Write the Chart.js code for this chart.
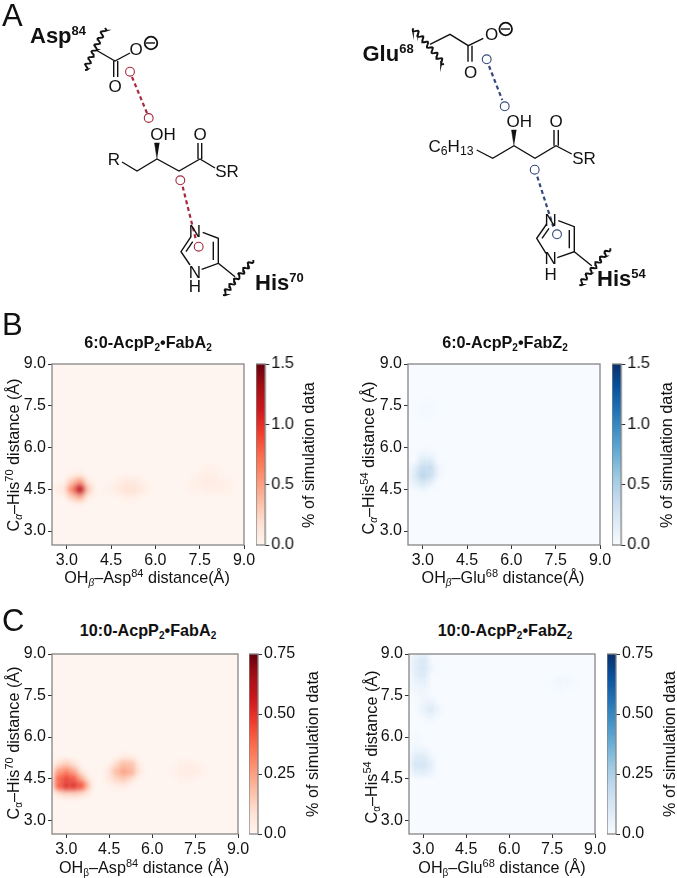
<!DOCTYPE html>
<html>
<head>
<meta charset="utf-8">
<script src="https://cdn.jsdelivr.net/npm/chart.js@4"></script>
<style>
  html, body { margin: 0; padding: 0; background: #fff; }
  body { position: relative; width: 677px; height: 878px; overflow: hidden; font-family: "Liberation Sans", sans-serif; color: #111; }
  canvas { position: absolute; }
  .txt { position: absolute; white-space: nowrap; line-height: 1; transform: translate(-50%, -50%); }
  .rot { transform: translate(-50%, -50%) rotate(-90deg); }
  .atom { font-size: 17px; }
  .res { font-size: 22px; font-weight: bold; transform: translate(0, -50%); }
  .res sup { font-size: 13px; vertical-align: 8px; line-height: 0; }
  .panel { font-size: 31px; transform: translate(0, -50%); }
  .title { font-size: 16.2px; font-weight: bold; }
  .axis { font-size: 16.2px; }
  .title sub, .axis sub { font-size: .62em; vertical-align: -3px; line-height: 0; }
  .atom sub { font-size: .72em; vertical-align: -3px; line-height: 0; }
  .axis sup { font-size: .68em; vertical-align: 6px; line-height: 0; }
</style>
</head>
<body>
<script>
const xTicks = [3.0, 4.5, 6.0, 7.5, 9.0];
const yTicks = [3.0, 4.5, 6.0, 7.5, 9.0];
const barTicks6 = [0.0, 0.5, 1.0, 1.5];
const barTicks10 = [0.0, 0.25, 0.5, 0.75];

const reds = ["#fff5f0", "#fee0d2", "#fcbba1", "#fc9272", "#fb6a4a", "#ef3b2c", "#cb181d", "#a50f15", "#67000d"];
const blues = ["#f7fbff", "#deebf7", "#c6dbef", "#9ecae1", "#6baed6", "#4292c6", "#2171b5", "#08519c", "#08306b"];

// heatmap cells that stand out from the background: [x, y, percent]
const fabA6 = [
  [2.75,4.5,.09],[3,4.5,.14],[3.19,4.5,.6],[3.44,4.5,1.18],[3.69,4.5,.3],[3.94,4.5,.04],
  [3.19,4.75,.3],[3.44,4.75,.5],[3.69,4.75,.1],[3.19,4.25,.28],[3.44,4.25,.42],[3.69,4.25,.08],[3.19,5,.04],[3.44,5,.08],[3.44,4,.04],
  [4.5,4.5,.05],[4.75,4.5,.1],[5,4.5,.17],[5.25,4.5,.18],[5.5,4.5,.1],[5.75,4.5,.03],
  [4.75,4.75,.05],[5,4.75,.11],[5.25,4.75,.11],[5.5,4.75,.05],[5,4.25,.05],[5.25,4.25,.05],
  [7.25,4.5,.03],[7.5,4.5,.04],[7.75,4.5,.05],[8,4.5,.05],[8.25,4.5,.04],[8.5,4.5,.03],
  [7.25,4.75,.04],[7.5,4.75,.06],[7.75,4.75,.08],[8,4.75,.08],[8.25,4.75,.06],[8.5,4.75,.03],
  [7.5,5,.04],[7.75,5,.06],[8,5,.05],[7.75,5.25,.03],[8,5.25,.03]
];
const fabZ6 = [
  [3,5.75,.07],[3.25,5.75,.07],[3,5.5,.2],[3.25,5.5,.2],
  [2.75,5.25,.14],[3,5.25,.38],[3.25,5.25,.38],[3.5,5.25,.08],
  [2.75,5,.2],[3,5,.45],[3.25,5,.34],[3.5,5,.06],
  [2.75,4.75,.14],[3,4.75,.24],[3.25,4.75,.13],[3,4.5,.05],
  [3,7.5,.03],[3.25,7.5,.03],[3,7.25,.03],[3.25,7.25,.03]
];
const fabA10 = [
  [2.75,5,.09],[3,5,.14],[3.25,5,.07],
  [2.75,4.75,.25],[3,4.75,.31],[3.25,4.75,.22],[3.5,4.75,.05],
  [2.75,4.5,.38],[3,4.5,.46],[3.25,4.5,.4],[3.5,4.5,.2],[3.75,4.5,.03],
  [2.75,4.25,.4],[3,4.25,.51],[3.25,4.25,.51],[3.5,4.25,.42],[3.7,4.25,.16],
  [2.75,4,.08],[3,4,.13],[3.25,4,.13],[3.5,4,.1],[3.7,4,.04],
  [5,5.25,.04],[5.25,5.25,.04],[4.75,5,.1],[5,5,.18],[5.25,5,.17],[5.5,5,.04],
  [4.5,4.75,.05],[4.75,4.75,.18],[5,4.75,.25],[5.25,4.75,.21],[5.5,4.75,.06],
  [4.5,4.5,.04],[4.75,4.5,.11],[5,4.5,.14],[5.25,4.5,.07],[4.75,4.25,.02],[5,4.25,.03],
  [7,5,.02],[7.25,5,.03],[7.5,5,.02],[6.75,4.75,.02],[7,4.75,.035],[7.25,4.75,.045],[7.5,4.75,.04],[7.75,4.75,.02],
  [7,4.5,.015],[7.25,4.5,.02]
];
const fabZ10 = [
  [2.75,9,.04],[3,9,.06],[2.75,8.75,.07],[3,8.75,.12],[2.75,8.5,.08],[3,8.5,.13],[3.25,8.5,.03],
  [2.75,8.25,.07],[3,8.25,.11],[2.75,8,.04],[3,8,.07],[2.75,7.75,.03],[3,7.75,.04],[3,7.5,.03],
  [3,7.25,.03],[3.25,7.25,.05],[3,7,.04],[3.25,7,.1],[3.5,7,.04],[3.25,6.75,.04],
  [2.75,6,.02],[2.75,5.75,.02],[2.75,5.5,.04],[3,5.5,.04],[2.75,5.25,.09],[3,5.25,.1],[3.25,5.25,.03],
  [2.75,5,.13],[3,5,.14],[3.25,5,.07],[2.75,4.75,.07],[3,4.75,.08],[3.25,4.75,.04],
  [7.5,8,.012],[7.75,8,.03],[8,8,.03],[8.25,8,.012],[7.75,7.75,.012],[8,7.75,.012]
];

// panel A schematic, in the picture's own units
const blackBonds = [
  [[96,50],[115,61],[130,53]], [[113.7,61],[113.7,77]], [[117.7,61],[117.7,77]],
  [[122,162],[137,171],[157,159],[179,171],[200,159],[215,168]], [[198,159],[198,143]], [[201.7,159],[201.7,143]],
  [[202.7,232.3],[218.3,238.3],[218.3,263.3],[201.7,269.3]], [[213.3,241.7],[213.3,260]],
  [[190,265],[181,251.7],[191,236.7]], [[186,251.7],[192.7,241.7]], [[218.3,263.3],[235,276.7]],
  [[430,44.3],[450,34.3],[468.3,45.7],[483.3,38.3]], [[468,45.7],[468,61.7]], [[472,45.7],[472,61.7]],
  [[476.7,150],[492.7,158.3],[514,145.7],[535,158.3],[556,145.7],[571.7,154]], [[554,145.7],[554,130]], [[558.3,145.7],[558.3,130]],
  [[558.3,220.7],[574.3,226.7],[574.3,251.7],[557.3,257.7]], [[569.3,230],[569.3,248.3]],
  [[546,253.3],[536.7,238.3],[546.7,224]], [[542,238.3],[549,228.3]], [[574.3,251.7],[591.7,265.7]],
  [[146,43],[155,43]], [[501,29],[510,29]]
];
const wavyEnds = [[85,70,105,28], [223,295,253,260], [413.3,28.3,444,64], [579.3,285,610,248.3]];
const wedges = [[[157,159],[154.5,143],[159.5,143]], [[514,145.7],[511.5,130],[516.5,130]]];
const chargeRings = [[151,43], [505.7,29]];
const redLinks = [[[132,77],[147,113]], [[182.7,186.7],[196,240]]];
const redRings = [[130,71.7], [148.7,118], [180.3,180.3], [198.7,246.7]];
const blueLinks = [[[489,66],[502.3,100]], [[537.3,176.7],[553.3,226.7]]];
const blueRings = [[486.7,59.3], [504.7,106.3], [534.7,169.7], [557,234.3]];
const atomLabels = [
  ["O",115,86],["O",136,49],["OH",163,134],["R",114,159],["O",200,134],["SR",227,171],["N",195,231],["N",195,272],["H",195,286],
  ["O",470.7,71.7],["O",491.7,34.3],["OH",519.3,120.7],["C<sub>6</sub>H<sub>13</sub>",451,146],["O",556,120.7],["SR",584,158.3],["N",550.7,220],["N",550.7,258.3],["H",550.7,274]
];

function addText(html, x, y, cls) {
  const el = document.createElement("div");
  el.className = "txt " + cls;
  el.innerHTML = html;
  el.style.left = x + "px";
  el.style.top = y + "px";
  document.body.appendChild(el);
}

function addCanvas(left, top, width, height) {
  const c = document.createElement("canvas");
  c.width = width;
  c.height = height;
  c.style.left = left + "px";
  c.style.top = top + "px";
  c.style.width = width + "px";
  c.style.height = height + "px";
  document.body.appendChild(c);
  return c;
}

function rampColor(ramp, t) {
  const p = Math.min(Math.max(t, 0), 1) * (ramp.length - 1);
  const i = Math.min(Math.floor(p), ramp.length - 2);
  const f = p - i;
  const a = parseInt(ramp[i].slice(1), 16), b = parseInt(ramp[i + 1].slice(1), 16);
  const mix = s => Math.round(((a >> s) & 255) * (1 - f) + ((b >> s) & 255) * f);
  return `rgb(${mix(16)},${mix(8)},${mix(0)})`;
}

const tickFont = { family: "Liberation Sans", size: 16 };
const spines = {
  id: "spines",
  afterDraw(chart) {
    const { ctx, chartArea: a } = chart;
    ctx.save();
    ctx.strokeStyle = "#858585";
    ctx.lineWidth = 1.3;
    ctx.strokeRect(a.left, a.top, a.right - a.left, a.bottom - a.top);
    ctx.restore();
  }
};

// one heatmap panel
function heatmap(box, cells, ramp, vmax) {
  const left = 40, top = 12, right = 22, bottom = 26;
  const canvas = addCanvas(box.x - left, box.y - top, left + box.w + right, top + box.h + bottom);
  const sorted = [...cells].sort((p, q) => p[2] - q[2]).map(c => ({ x: c[0], y: c[1], v: c[2] }));
  const smooth = {
    id: "smooth",
    beforeDatasetsDraw(chart) {
      const { ctx, chartArea: a } = chart;
      ctx.fillStyle = ramp[0];
      ctx.fillRect(a.left, a.top, a.right - a.left, a.bottom - a.top);
      ctx.filter = "blur(2.9px)";
    },
    afterDatasetsDraw(chart) { chart.ctx.filter = "none"; }
  };
  new Chart(canvas, {
    type: "scatter",
    data: {
      datasets: [{
        data: sorted,
        pointStyle: "rect",
        pointRadius: 6,
        borderWidth: 0,
        backgroundColor: c => rampColor(ramp, c.raw ? c.raw.v / vmax : 0)
      }]
    },
    options: {
      responsive: false,
      animation: false,
      events: [],
      layout: { padding: { top: top, right: right } },
      plugins: { legend: { display: false }, tooltip: { enabled: false } },
      scales: {
        x: {
          type: "linear", min: 2.5, max: 9,
          border: { display: false },
          grid: { drawOnChartArea: false, tickLength: 4, color: "#333" },
          afterBuildTicks: s => { s.ticks = xTicks.map(v => ({ value: v })); },
          afterFit: s => { s.height = bottom; },
          ticks: { color: "#111", font: tickFont, padding: 2, maxRotation: 0, autoSkip: false, callback: v => v.toFixed(1) }
        },
        y: {
          type: "linear", min: 2.5, max: 9,
          border: { display: false },
          grid: { drawOnChartArea: false, tickLength: 4, color: "#333" },
          afterBuildTicks: s => { s.ticks = yTicks.map(v => ({ value: v })); },
          afterFit: s => { s.width = left; },
          ticks: { color: "#111", font: tickFont, padding: 2, autoSkip: false, callback: v => v.toFixed(1) }
        }
      }
    },
    plugins: [smooth, spines]
  });
}

// colour bar beside a panel, a single floating bar with a gradient
function colorbar(box, ramp, ticks, labels) {
  const top = 12, right = 44, bottom = 12;
  const vmax = ticks[ticks.length - 1];
  const canvas = addCanvas(box.x, box.y - top, box.w + right, top + box.h + bottom);
  new Chart(canvas, {
    type: "bar",
    data: {
      labels: [""],
      datasets: [{
        data: [[0, vmax]],
        barPercentage: 1,
        categoryPercentage: 1,
        backgroundColor: c => {
          const a = c.chart.chartArea;
          if (!a) return ramp[0];
          const g = c.chart.ctx.createLinearGradient(0, a.bottom, 0, a.top);
          ramp.forEach((col, i) => g.addColorStop(i / (ramp.length - 1), col));
          return g;
        }
      }]
    },
    options: {
      responsive: false,
      animation: false,
      events: [],
      layout: { padding: { top: top, bottom: bottom } },
      plugins: { legend: { display: false }, tooltip: { enabled: false } },
      scales: {
        x: { display: false },
        y: {
          position: "right", min: 0, max: vmax,
          border: { display: false },
          grid: { drawOnChartArea: false, tickLength: 4, color: "#333" },
          afterBuildTicks: s => { s.ticks = ticks.map(v => ({ value: v })); },
          afterFit: s => { s.width = right; },
          ticks: { color: "#111", font: tickFont, padding: 2, autoSkip: false, callback: v => labels[ticks.indexOf(v)] }
        }
      }
    },
    plugins: [spines]
  });
}

// panel A: hidden axes that run in the picture's pixels
function wavyLine(e) {
  const pts = [];
  const dx = e[2] - e[0], dy = e[3] - e[1], len = Math.hypot(dx, dy);
  for (let i = 0; i <= 48; i++) {
    const t = i / 48, w = 2.2 * Math.sin(t * Math.PI * 13);
    pts.push([e[0] + dx * t - dy / len * w, e[1] + dy * t + dx / len * w]);
  }
  return pts;
}
const toPts = line => line.map(p => ({ x: p[0], y: p[1] }));
const lineSet = (line, color, width, dash) => ({
  data: toPts(line), showLine: true, pointRadius: 0, borderColor: color, borderWidth: width, borderDash: dash || []
});
const ringSet = (rings, color, r, width) => ({
  data: toPts(rings), pointRadius: r, pointBorderWidth: width, pointBorderColor: color, pointBackgroundColor: "rgba(255,255,255,0)"
});

new Chart(addCanvas(0, 0, 677, 310), {
  type: "scatter",
  data: {
    datasets: [
      ...blackBonds.map(l => lineSet(l, "#111", 1.4)),
      ...wavyEnds.map(e => lineSet(wavyLine(e), "#111", 1.9)),
      ...wedges.map(w => ({ data: toPts(w), showLine: true, pointRadius: 0, borderWidth: 0.5, borderColor: "#111", backgroundColor: "#111", fill: "shape" })),
      ringSet(chargeRings, "#111", 6.3, 1.8),
      ...redLinks.map(l => lineSet(l, "#a8283c", 2.2, [4, 3])),
      ringSet(redRings, "#a8283c", 4.4, 1.1),
      ...blueLinks.map(l => lineSet(l, "#34497c", 2.2, [4, 3])),
      ringSet(blueRings, "#34497c", 4.4, 1.1)
    ]
  },
  options: {
    responsive: false,
    animation: false,
    events: [],
    layout: { padding: 0, autoPadding: false },
    plugins: { legend: { display: false }, tooltip: { enabled: false } },
    scales: {
      x: { display: false, type: "linear", min: 0, max: 677 },
      y: { display: false, type: "linear", min: 0, max: 310, reverse: true }
    }
  }
});

atomLabels.forEach(a => addText(a[0], a[1], a[2], "atom"));
addText("Asp<sup>84</sup>", 30, 36, "res");
addText("His<sup>70</sup>", 255, 283, "res");
addText("Glu<sup>68</sup>", 362.5, 54, "res");
addText("His<sup>54</sup>", 597, 279, "res");
addText("A", 2, 15, "panel");
addText("B", 2, 324, "panel");
addText("C", 2, 620, "panel");

const boxes = {
  a6: { x: 51.5, y: 363.5, w: 192, h: 181.5 },
  z6: { x: 407.5, y: 363.5, w: 192, h: 181.5 },
  a10: { x: 51.5, y: 653.5, w: 186, h: 180.5 },
  z10: { x: 409, y: 653.5, w: 186, h: 180.5 }
};
const bars = {
  a6: { x: 256, y: 363.5, w: 9.5, h: 181.5 },
  z6: { x: 612, y: 363.5, w: 9.5, h: 181.5 },
  a10: { x: 248.5, y: 653.5, w: 9.5, h: 180.5 },
  z10: { x: 606.5, y: 653.5, w: 9.5, h: 180.5 }
};

heatmap(boxes.a6, fabA6, reds, 1.5);
heatmap(boxes.z6, fabZ6, blues, 1.5);
heatmap(boxes.a10, fabA10, reds, 0.75);
heatmap(boxes.z10, fabZ10, blues, 0.75);
colorbar(bars.a6, reds, barTicks6, ["0.0", "0.5", "1.0", "1.5"]);
colorbar(bars.z6, blues, barTicks6, ["0.0", "0.5", "1.0", "1.5"]);
colorbar(bars.a10, reds, barTicks10, ["0.0", "0.25", "0.50", "0.75"]);
colorbar(bars.z10, blues, barTicks10, ["0.0", "0.25", "0.50", "0.75"]);

addText("6:0-AcpP<sub>2</sub>•FabA<sub>2</sub>", 148, 342, "title");
addText("6:0-AcpP<sub>2</sub>•FabZ<sub>2</sub>", 505, 342, "title");
addText("10:0-AcpP<sub>2</sub>•FabA<sub>2</sub>", 148, 630, "title");
addText("10:0-AcpP<sub>2</sub>•FabZ<sub>2</sub>", 505, 630, "title");

addText("OH<sub><i>β</i></sub>–Asp<sup>84</sup> distance(Å)", 147, 577, "axis");
addText("OH<sub><i>β</i></sub>–Glu<sup>68</sup> distance(Å)", 503, 577, "axis");
addText("OH<sub>β</sub>–Asp<sup>84</sup> distance (Å)", 144, 867, "axis");
addText("OH<sub>β</sub>–Glu<sup>68</sup> distance (Å)", 502, 867, "axis");

addText("C<sub><i>α</i></sub>–His<sup>70</sup> distance (Å)", 13, 455, "axis rot");
addText("C<sub><i>α</i></sub>–His<sup>54</sup> distance (Å)", 368, 458, "axis rot");
addText("C<sub>α</sub>–His<sup>70</sup> distance (Å)", 13, 743, "axis rot");
addText("C<sub>α</sub>–His<sup>54</sup> distance (Å)", 371, 747, "axis rot");

addText("% of simulation data", 308, 455, "axis rot");
addText("% of simulation data", 666, 455, "axis rot");
addText("% of simulation data", 312, 744, "axis rot");
addText("% of simulation data", 669, 744, "axis rot");
</script>
</body>
</html>
